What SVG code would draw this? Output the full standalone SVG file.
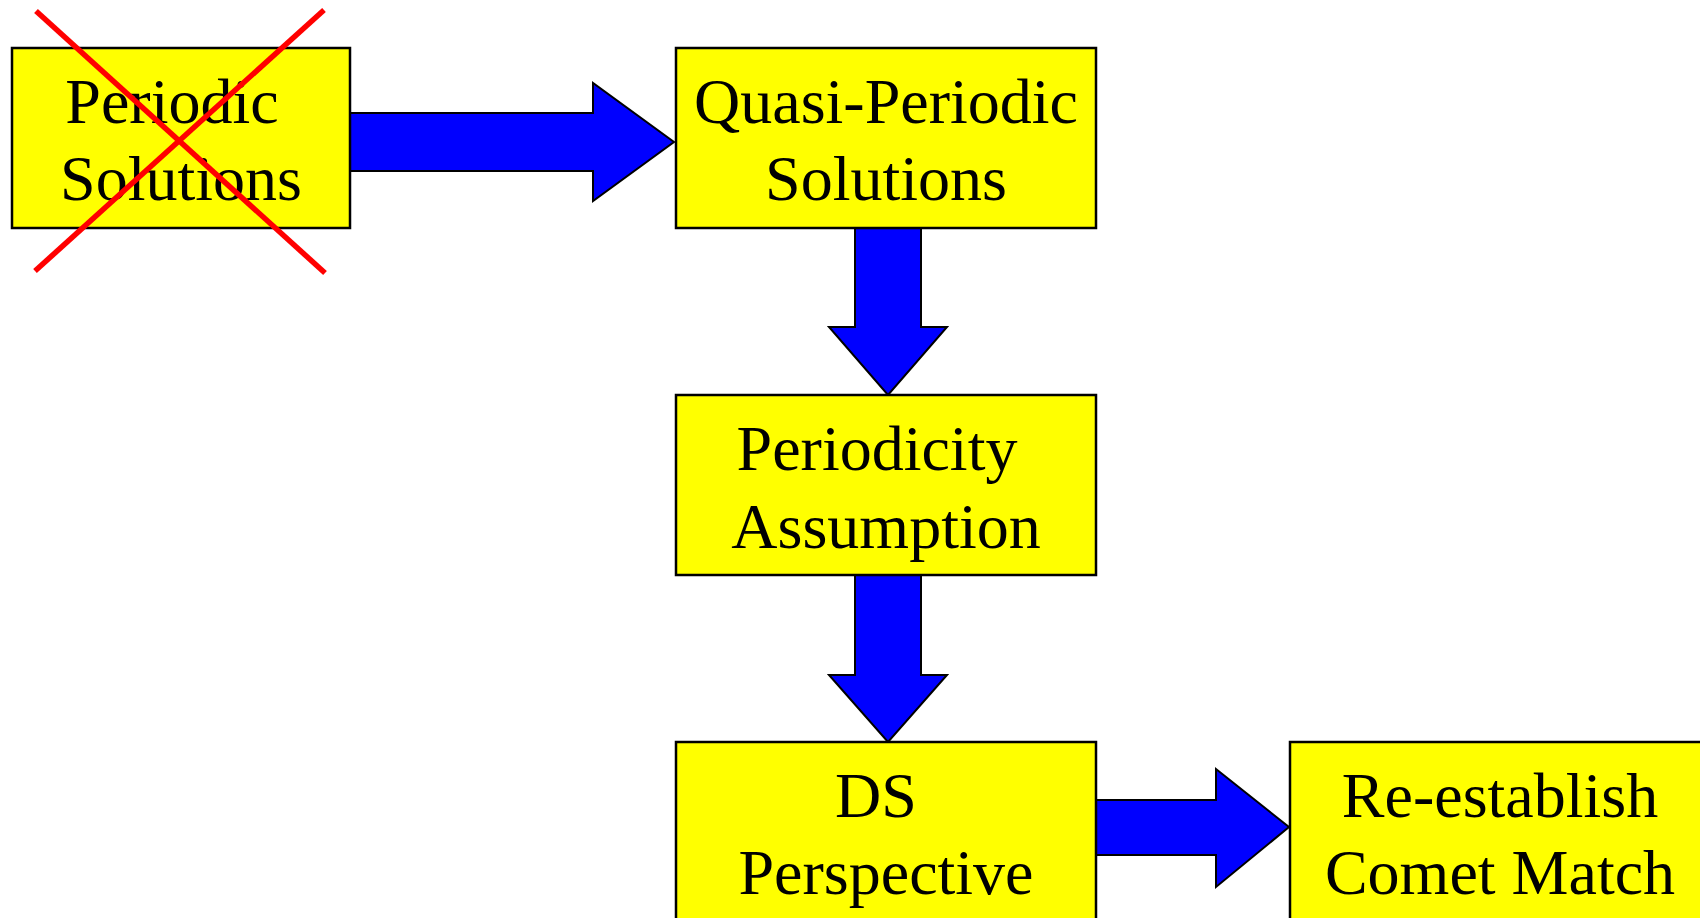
<svg xmlns="http://www.w3.org/2000/svg" width="1700" height="918" viewBox="0 0 1700 918">
<style>
.box{fill:#FFFF00;stroke:#000;stroke-width:2.5}
.arr{fill:#0000FF;stroke:#000;stroke-width:2;stroke-linejoin:miter}
.t{font-family:"Liberation Serif","Times New Roman",serif;font-size:64px;fill:#000;text-anchor:middle}
.x{stroke:#FF0000;stroke-width:5.5;stroke-linecap:butt}
</style>
<rect width="1700" height="918" fill="#fff"/>
<g id="connectors">
<polygon class="arr" points="350,113 593,113 593,83 674,142 593,201 593,171 350,171"/>
<polygon class="arr" points="855,228 921,228 921,327 947,327 888,395 829,327 855,327"/>
<polygon class="arr" points="855,575 921,575 921,675 947,675 888,742 829,675 855,675"/>
<polygon class="arr" points="1096,800 1216,800 1216,769 1289,827 1216,887 1216,855 1096,855"/>
</g>
<g id="periodic">
<rect class="box" x="12" y="48" width="338" height="180"/>
<text class="t" x="172" y="123">Periodic</text>
<text class="t" x="181" y="200">Solutions</text>
<line class="x" x1="36" y1="11" x2="325" y2="273"/>
<line class="x" x1="324" y1="10" x2="35" y2="271"/>
</g>
<g id="quasi">
<rect class="box" x="676" y="48" width="420" height="180"/>
<text class="t" x="886" y="123">Quasi-Periodic</text>
<text class="t" x="886" y="200">Solutions</text>
</g>
<g id="periodicity">
<rect class="box" x="676" y="395" width="420" height="180"/>
<text class="t" x="877" y="470">Periodicity</text>
<text class="t" x="886" y="548">Assumption</text>
</g>
<g id="ds">
<rect class="box" x="676" y="742" width="420" height="180"/>
<text class="t" x="876" y="817">DS</text>
<text class="t" x="886" y="894">Perspective</text>
</g>
<g id="reestablish">
<rect class="box" x="1290" y="742" width="420" height="180"/>
<text class="t" x="1500" y="817">Re-establish</text>
<text class="t" x="1500" y="894">Comet Match</text>
</g>
</svg>
